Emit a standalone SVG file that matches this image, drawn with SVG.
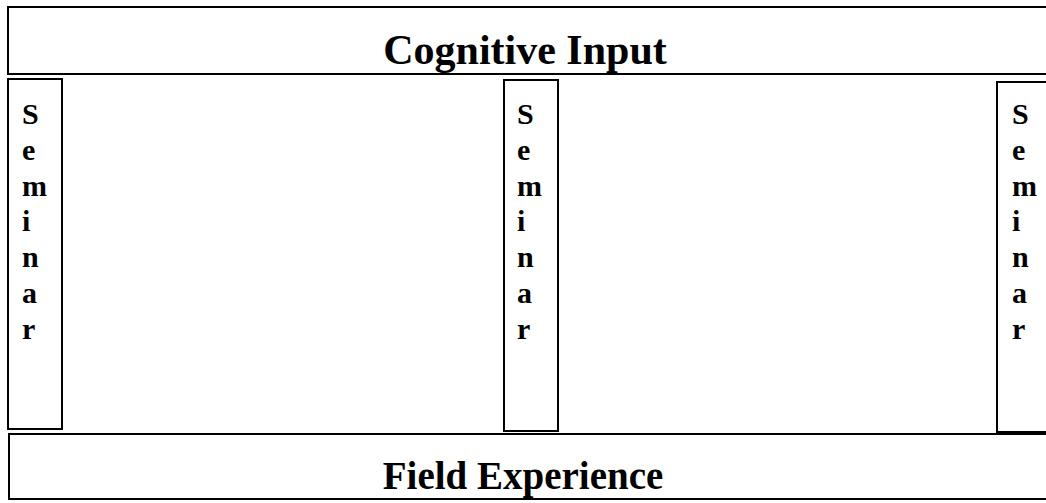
<svg xmlns="http://www.w3.org/2000/svg" width="1046" height="503" viewBox="0 0 1046 503">
<style>
.box{fill:none;stroke:#000;stroke-width:2}
.t{font-family:"Liberation Serif",serif;font-weight:bold;fill:#000}
.ci{font-size:42px}
.fe{font-size:39px}
.sem{font-size:30px}
</style>
<rect width="1046" height="503" fill="#fff"/>
<g id="cognitive-input">
<rect class="box" x="8" y="7" width="1050" height="67"/>
<text class="t ci" x="525" y="64" text-anchor="middle">Cognitive Input</text>
</g>
<g id="seminar-1">
<rect class="box" x="8" y="79" width="54" height="350"/>
<text class="t sem" x="22" y="124"><tspan x="22">S</tspan><tspan x="22" dy="35.8">e</tspan><tspan x="22" dy="35.8">m</tspan><tspan x="22" dy="35.8">i</tspan><tspan x="22" dy="35.8">n</tspan><tspan x="22" dy="35.8">a</tspan><tspan x="22" dy="35.8">r</tspan></text>
</g>
<g id="seminar-2">
<rect class="box" x="504" y="80" width="54" height="351"/>
<text class="t sem" x="517" y="124"><tspan x="517">S</tspan><tspan x="517" dy="35.8">e</tspan><tspan x="517" dy="35.8">m</tspan><tspan x="517" dy="35.8">i</tspan><tspan x="517" dy="35.8">n</tspan><tspan x="517" dy="35.8">a</tspan><tspan x="517" dy="35.8">r</tspan></text>
</g>
<g id="seminar-3">
<rect class="box" x="997" y="82" width="60" height="350"/>
<text class="t sem" x="1012" y="124"><tspan x="1012">S</tspan><tspan x="1012" dy="35.8">e</tspan><tspan x="1012" dy="35.8">m</tspan><tspan x="1012" dy="35.8">i</tspan><tspan x="1012" dy="35.8">n</tspan><tspan x="1012" dy="35.8">a</tspan><tspan x="1012" dy="35.8">r</tspan></text>
</g>
<g id="field-experience">
<rect class="box" x="9" y="434" width="1050" height="65"/>
<text class="t fe" x="523" y="489" text-anchor="middle">Field Experience</text>
</g>
<g id="connectors"></g>
</svg>
